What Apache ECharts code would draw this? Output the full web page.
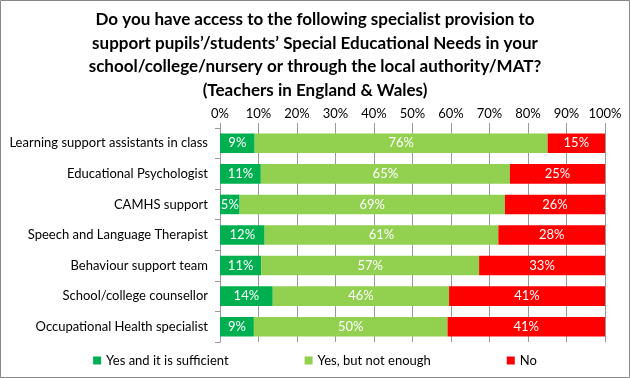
<!DOCTYPE html>
<html><head><meta charset="utf-8">
<script src="https://cdn.jsdelivr.net/npm/echarts@6/dist/echarts.min.js"></script>
<style>html,body{margin:0;padding:0;background:#fff}#c{width:630px;height:378px}</style>
</head><body><div id="c"></div>
<script>
const categories = ["Learning support assistants in class","Educational Psychologist","CAMHS support","Speech and Language Therapist","Behaviour support team","School/college counsellor","Occupational Health specialist"];
const sufficient = [9.0, 10.6, 5.1, 11.6, 10.7, 13.7, 8.8];
const notEnough = [76.1, 64.7, 68.9, 60.7, 56.6, 45.8, 50.3];
const no = [14.9, 24.7, 26.0, 27.7, 32.7, 40.6, 40.9];
const seriesNames = ["Yes and it is sufficient","Yes, but not enough","No"];
const colors = ["#00B050","#92D050","#FF0000"];
const titleText = "Do you have access to the following specialist provision to\nsupport pupils’/students’ Special Educational Needs in your\nschool/college/nursery or through the local authority/MAT?\n(Teachers in England & Wales)";
const FONT = "Lato";
const chart = echarts.init(document.getElementById('c'));
const mk = (name, data, i) => ({
  name, type: 'bar', stack: 'total', data, barCategoryGap: '36%',
  itemStyle: { color: colors[i] },
  label: { show: true, position: 'inside', color: '#fff', fontFamily: FONT, fontSize: 13,
    formatter: p => Math.round(p.value) + '%' }
});
chart.setOption({
  animation: false,
  backgroundColor: '#fff',
  title: { text: titleText, left: 'center', top: 3,
    textStyle: { fontFamily: FONT, fontWeight: 'bold', fontSize: 17, lineHeight: 23.5, color: '#000' } },
  graphic: [{ type: 'rect', shape: { x: 0.5, y: 0.5, width: 629, height: 377 },
    style: { fill: 'none', stroke: '#888', lineWidth: 1 }, silent: true }],
  legend: { bottom: 6, left: 'center', itemWidth: 8, itemHeight: 8, itemGap: 76, icon: 'rect',
    textStyle: { fontFamily: FONT, fontSize: 13, color: '#000' },
    data: seriesNames },
  grid: { left: 220, right: 25, top: 128, bottom: 36 },
  xAxis: { type: 'value', position: 'top', min: 0, max: 100, interval: 10,
    axisLabel: { formatter: '{value}%', fontFamily: FONT, fontSize: 13, color: '#000', margin: 8 },
    axisLine: { show: false },
    axisTick: { show: true, length: 5, lineStyle: { color: '#999' } },
    splitLine: { show: true, lineStyle: { color: '#999' } } },
  yAxis: { type: 'category', inverse: true, data: categories,
    axisLine: { show: true, lineStyle: { color: '#999' } },
    axisTick: { show: true, length: 5, lineStyle: { color: '#999' } },
    axisLabel: { fontFamily: FONT, fontSize: 13, color: '#000', margin: 12 } },
  series: [mk(seriesNames[0], sufficient, 0), mk(seriesNames[1], notEnough, 1), mk(seriesNames[2], no, 2)]
});
</script></body></html>
